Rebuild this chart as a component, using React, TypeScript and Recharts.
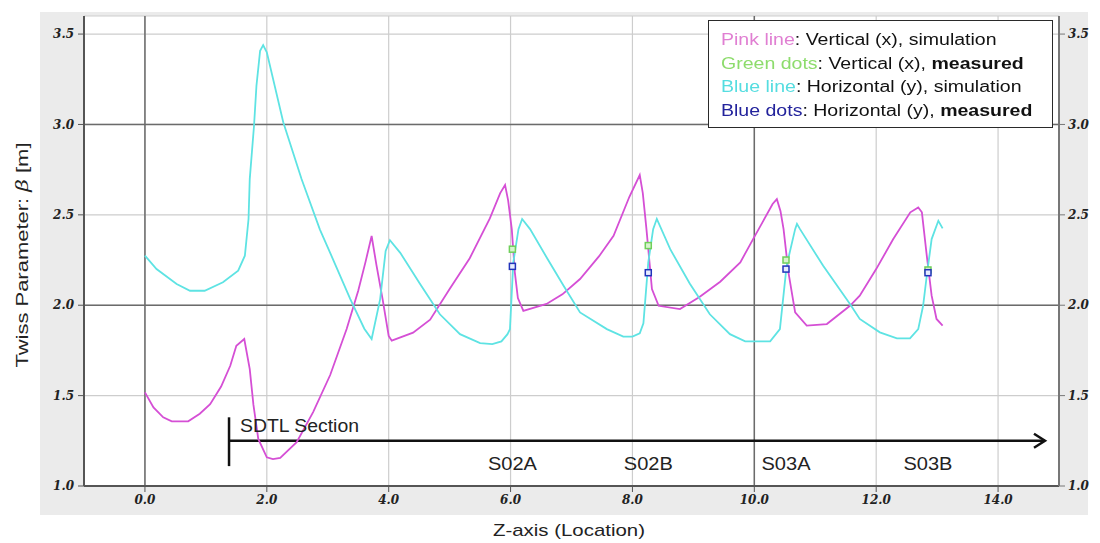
import React from "react";
import {
  ComposedChart,
  Line,
  Scatter,
  XAxis,
  YAxis,
  CartesianGrid,
  ReferenceLine,
  Legend,
} from "recharts";

// Twiss beta along the SDTL section: simulation curves + measured points.

const pinkX = [
  0, 0.14, 0.3, 0.44, 0.71, 0.9, 1.07, 1.25, 1.4, 1.5, 1.63, 1.72, 1.78, 1.86, 2.0, 2.1, 2.22, 2.49, 2.76,
  3.04, 3.31, 3.5, 3.62, 3.72, 3.8, 3.9, 4.0, 4.05, 4.4, 4.68, 5.0, 5.33, 5.66, 5.83, 5.91, 5.96, 6.02,
  6.07, 6.12, 6.21, 6.59, 6.85, 7.14, 7.45, 7.69, 7.95, 8.12, 8.17, 8.23, 8.32, 8.43, 8.78, 9.1, 9.44,
  9.77, 9.98, 10.12, 10.3, 10.37, 10.43, 10.48, 10.56, 10.67, 10.86, 11.19, 11.57, 11.73, 12.0, 12.28,
  12.56, 12.69, 12.75, 12.83, 12.91, 12.99, 13.09,
];
const pinkY = [
  1.518, 1.435, 1.38, 1.358, 1.358, 1.4, 1.453, 1.55, 1.665, 1.776, 1.813, 1.647, 1.45, 1.26, 1.159, 1.149,
  1.155, 1.243, 1.409, 1.614, 1.868, 2.08, 2.24, 2.383, 2.22, 2.034, 1.83, 1.804, 1.848, 1.92, 2.09, 2.26,
  2.48, 2.62, 2.665, 2.58, 2.421, 2.182, 2.04, 1.969, 2.007, 2.06, 2.145, 2.27, 2.384, 2.6, 2.72, 2.62,
  2.421, 2.09, 1.997, 1.979, 2.045, 2.13, 2.237, 2.366, 2.45, 2.56, 2.587, 2.52, 2.421, 2.182, 1.96, 1.887,
  1.896, 1.997, 2.053, 2.2, 2.366, 2.514, 2.541, 2.514, 2.274, 2.053, 1.924, 1.887,
];

const cyanX = [
  0, 0.19, 0.52, 0.74, 0.98, 1.28, 1.53, 1.64, 1.7, 1.72, 1.79, 1.83, 1.89, 1.94, 2.0, 2.27, 2.57, 2.87,
  3.12, 3.37, 3.6, 3.72, 3.86, 3.95, 4.02, 4.19, 4.51, 4.84, 5.17, 5.5, 5.7, 5.85, 5.95, 5.99, 6.045, 6.13,
  6.19, 6.32, 6.6, 6.87, 7.14, 7.58, 7.85, 8.0, 8.12, 8.18, 8.26, 8.34, 8.4, 8.62, 8.94, 9.27, 9.6, 9.85,
  10.26, 10.42, 10.53, 10.67, 10.7, 10.75, 11.13, 11.57, 11.73, 12.06, 12.34, 12.555, 12.69, 12.77, 12.83,
  12.91, 13.02, 13.09,
];
const cyanY = [
  2.274, 2.2, 2.117, 2.08, 2.08, 2.127, 2.191, 2.274, 2.477, 2.698, 2.993, 3.214, 3.408, 3.439, 3.399, 3.012,
  2.698, 2.42, 2.228, 2.034, 1.87, 1.813, 2.034, 2.3, 2.36, 2.29, 2.12, 1.95, 1.84, 1.79, 1.785, 1.8, 1.84,
  1.868, 2.237, 2.421, 2.477, 2.421, 2.26, 2.108, 1.96, 1.868, 1.826, 1.826, 1.845, 1.9, 2.237, 2.421, 2.478,
  2.31, 2.12, 1.95, 1.84, 1.8, 1.8, 1.868, 2.218, 2.421, 2.45, 2.421, 2.218, 2.007, 1.924, 1.85, 1.817, 1.817,
  1.868, 1.997, 2.163, 2.366, 2.467, 2.425,
];

const measuredX = [6.03, 8.26, 10.52, 12.85];
const greenY = [2.31, 2.33, 2.25, 2.195];
const blueY = [2.215, 2.18, 2.2, 2.18];

const sectionNames = ["S02A", "S02B", "S03A", "S03B"];
const sectionLabelY = 1.09;
const sdtlTitle = "SDTL Section";
const sdtlStart = 1.38;
const sdtlEnd = 14.77;
const sdtlArrowY = 1.25;
const sdtlTickTop = 1.38;
const sdtlTickBottom = 1.11;
const sdtlTitleX = 1.56;
const sdtlTitleY = 1.3;

const xTicks = [0, 2, 4, 6, 8, 10, 12, 14];
const yTicks = [1.0, 1.5, 2.0, 2.5, 3.0, 3.5];
const xMajor = [0, 10];
const yMajor = [2.0, 3.0];

const pinkData = pinkX.map((x, i) => ({ x, y: pinkY[i] }));
const cyanData = cyanX.map((x, i) => ({ x, y: cyanY[i] }));
const greenData = measuredX.map((x, i) => ({ x, y: greenY[i] }));
const blueData = measuredX.map((x, i) => ({ x, y: blueY[i] }));
const sectionData = measuredX.map((x, i) => ({ x, y: sectionLabelY, name: sectionNames[i] }));
const sdtlData = [{ x: sdtlTitleX, y: sdtlTitleY, name: sdtlTitle }];

const tickStyle = {
  fontSize: 12,
  fill: "#222",
  fontFamily: "DejaVu Serif",
  fontWeight: "bold",
  fontStyle: "italic",
};
const SANS = "'Liberation Sans', Arial, sans-serif";

function YTitle() {
  return (
    <text
      x={22}
      y={255}
      transform="rotate(-90, 22, 255)"
      textAnchor="middle"
      dominantBaseline="central"
      fontSize={16}
      fontFamily={SANS}
      fill="#222"
      textLength={225}
      lengthAdjust="spacingAndGlyphs"
    >
      Twiss Parameter: <tspan fontFamily="DejaVu Serif" fontStyle="italic">β</tspan> [m]
    </text>
  );
}

function XTitle() {
  return (
    <text
      x={569}
      y={530}
      textAnchor="middle"
      dominantBaseline="central"
      fontSize={17}
      fontFamily={SANS}
      fill="#222"
      textLength={152}
      lengthAdjust="spacingAndGlyphs"
    >
      Z-axis (Location)
    </text>
  );
}

function ArrowShape(props: any) {
  const { x1, y1, x2, y2 } = props;
  return (
    <g>
      <line x1={x1} y1={y1} x2={x2} y2={y2} stroke="#111" strokeWidth={2.5} />
      <polyline
        points={`${x2 - 11},${y2 - 7} ${x2},${y2} ${x2 - 11},${y2 + 7}`}
        fill="none"
        stroke="#111"
        strokeWidth={2.5}
      />
    </g>
  );
}

function SectionText(props: any) {
  const { cx, cy, payload } = props;
  return (
    <text
      x={cx}
      y={cy}
      textAnchor="middle"
      fontSize={18}
      fontFamily={SANS}
      fill="#222"
      textLength={49}
      lengthAdjust="spacingAndGlyphs"
    >
      {payload.name}
    </text>
  );
}

function SdtlText(props: any) {
  const { cx, cy, payload } = props;
  return (
    <text
      x={cx}
      y={cy}
      textAnchor="start"
      fontSize={18}
      fontFamily={SANS}
      fill="#222"
      textLength={119}
      lengthAdjust="spacingAndGlyphs"
    >
      {payload.name}
    </text>
  );
}

function Square({ cx, cy, stroke, fill }: any) {
  return <rect x={cx - 3} y={cy - 3} width={6} height={6} stroke={stroke} strokeWidth={1.5} fill={fill} />;
}

const legendRows = [
  { key: "Pink line", color: "#e07fd2", rest: ": Vertical (x), ", tail: "simulation", bold: false },
  { key: "Green dots", color: "#8ddc6c", rest: ": Vertical (x), ", tail: "measured", bold: true },
  { key: "Blue line", color: "#55dde0", rest: ": Horizontal (y), ", tail: "simulation", bold: false },
  { key: "Blue dots", color: "#23239c", rest: ": Horizontal (y), ", tail: "measured", bold: true },
];

function LegendBox() {
  return (
    <div
      style={{
        boxSizing: "border-box",
        width: 345,
        height: 108,
        background: "#fff",
        border: "1.5px solid #2a2a2a",
        padding: "7px 0 0 12px",
        fontFamily: SANS,
        fontSize: 16,
        lineHeight: "23.7px",
        color: "#111",
        textAlign: "left",
      }}
    >
      {legendRows.map((r) => (
        <div key={r.key} style={{ whiteSpace: "nowrap", transform: "scaleX(1.22)", transformOrigin: "left" }}>
          <span style={{ color: r.color }}>{r.key}</span>
          {r.rest}
          <span style={{ fontWeight: r.bold ? "bold" : "normal" }}>{r.tail}</span>
        </div>
      ))}
    </div>
  );
}

export default function App() {
  return (
    <div style={{ position: "fixed", left: 0, top: 0, width: 1100, height: 543, background: "#fff" }}>
      <div style={{ position: "absolute", left: 40, top: 12, width: 1048, height: 503, background: "#ebebeb" }} />
      <div style={{ position: "absolute", left: 0, top: 0 }}>
        <ComposedChart width={1100} height={543} margin={{ top: 16, right: 0, bottom: 0, left: 0 }}>
          <CartesianGrid yAxisId="left" stroke="#cdcdcd" strokeWidth={1.2} fill="#fff" fillOpacity={1} />
          <XAxis
            type="number"
            dataKey="x"
            domain={[-1, 15]}
            ticks={xTicks}
            tickFormatter={(v: number) => v.toFixed(1)}
            height={57}
            tick={tickStyle}
            tickSize={6}
            tickMargin={3}
            axisLine={{ stroke: "#555", strokeWidth: 2 }}
            tickLine={{ stroke: "#555" }}
            label={<XTitle />}
          />
          <YAxis
            yAxisId="left"
            type="number"
            domain={[1, 3.6]}
            ticks={yTicks}
            tickFormatter={(v: number) => v.toFixed(1)}
            width={84}
            tick={tickStyle}
            tickSize={6}
            tickMargin={4}
            axisLine={{ stroke: "#555", strokeWidth: 2 }}
            tickLine={{ stroke: "#555" }}
            allowDataOverflow
            label={<YTitle />}
          />
          <YAxis
            yAxisId="right"
            orientation="right"
            type="number"
            domain={[1, 3.6]}
            ticks={yTicks}
            tickFormatter={(v: number) => v.toFixed(1)}
            width={41}
            tick={tickStyle}
            tickSize={6}
            tickMargin={3}
            axisLine={{ stroke: "#777", strokeWidth: 2 }}
            tickLine={{ stroke: "#777" }}
            allowDataOverflow
          />
          {yMajor.map((v) => (
            <ReferenceLine key={`y${v}`} yAxisId="left" y={v} stroke="#6b6b6b" strokeWidth={1.5} />
          ))}
          {xMajor.map((v) => (
            <ReferenceLine key={`x${v}`} yAxisId="left" x={v} stroke="#6b6b6b" strokeWidth={1.5} />
          ))}
          <ReferenceLine
            yAxisId="left"
            segment={[{ x: sdtlStart, y: sdtlTickTop }, { x: sdtlStart, y: sdtlTickBottom }]}
            stroke="#111"
            strokeWidth={2.5}
          />
          <ReferenceLine
            yAxisId="left"
            segment={[{ x: sdtlStart, y: sdtlArrowY }, { x: sdtlEnd, y: sdtlArrowY }]}
            shape={ArrowShape}
          />
          <Line
            yAxisId="left"
            data={pinkData}
            dataKey="y"
            type="linear"
            stroke="#d54fd5"
            strokeWidth={1.8}
            dot={false}
            activeDot={false}
            isAnimationActive={false}
            legendType="none"
          />
          <Line
            yAxisId="left"
            data={cyanData}
            dataKey="y"
            type="linear"
            stroke="#5ee3e3"
            strokeWidth={1.8}
            dot={false}
            activeDot={false}
            isAnimationActive={false}
            legendType="none"
          />
          <Scatter
            yAxisId="left"
            data={greenData}
            dataKey="y"
            shape={(p: any) => <Square {...p} stroke="#6fcf5a" fill="#d8f3cf" />}
            isAnimationActive={false}
            legendType="none"
          />
          <Scatter
            yAxisId="left"
            data={blueData}
            dataKey="y"
            shape={(p: any) => <Square {...p} stroke="#2233bb" fill="#e6ecff" />}
            isAnimationActive={false}
            legendType="none"
          />
          <Scatter yAxisId="left" data={sectionData} dataKey="y" shape={SectionText} isAnimationActive={false} legendType="none" />
          <Scatter yAxisId="left" data={sdtlData} dataKey="y" shape={SdtlText} isAnimationActive={false} legendType="none" />
          <Legend
            layout="horizontal"
            align="center"
            verticalAlign="middle"
            content={() => <LegendBox />}
            wrapperStyle={{ left: 708, top: 20, width: 345, height: 108 }}
          />
        </ComposedChart>
      </div>
    </div>
  );
}
